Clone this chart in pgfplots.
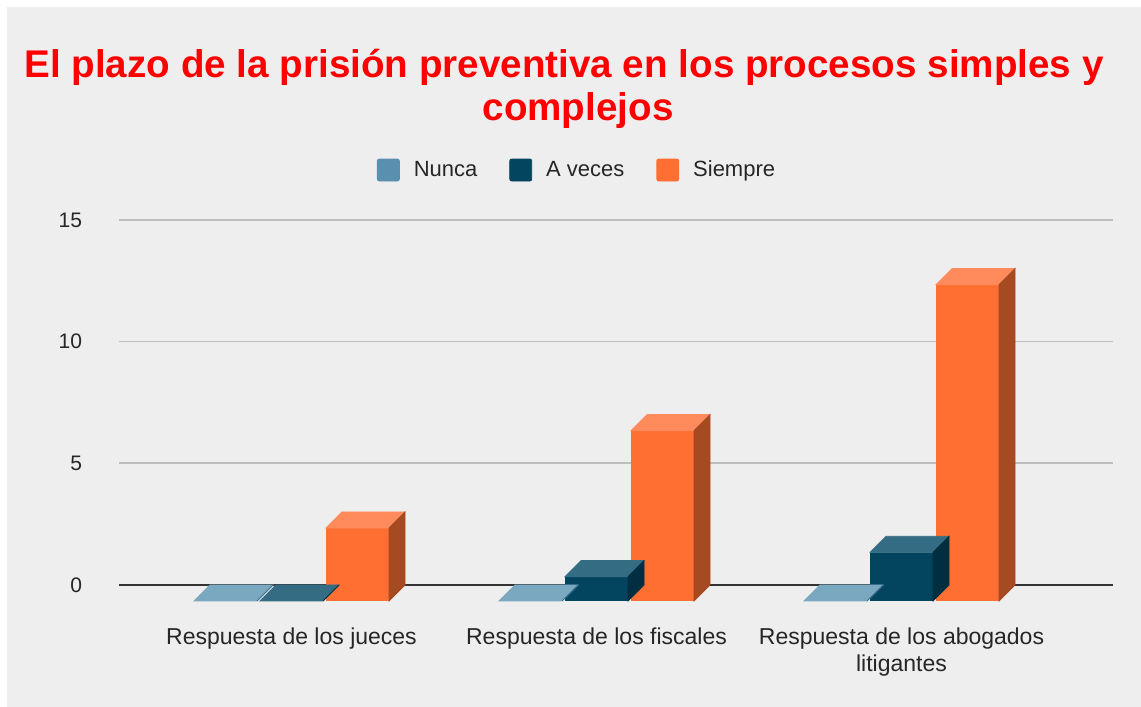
\documentclass[border=0pt]{standalone}
\usepackage{fontspec}
\setmainfont{Liberation Sans}
\usepackage{pgfplots}
\usepackage{pgfplotstable}
\pgfplotsset{compat=1.18}
\pgfdeclareplotmark{nothing}{}
\definecolor{bg}{HTML}{EEEEEE}
\definecolor{nuncaF}{HTML}{5A8FAF}
\definecolor{nuncaT}{HTML}{7AA8C0}
\definecolor{nuncaS}{HTML}{3E6F8A}
\definecolor{avecesF}{HTML}{03455F}
\definecolor{avecesT}{HTML}{346C83}
\definecolor{avecesS}{HTML}{012E40}
\definecolor{siempreF}{HTML}{FF6F31}
\definecolor{siempreT}{HTML}{FF8A5B}
\definecolor{siempreS}{HTML}{A64A21}
\definecolor{gridc}{HTML}{BDBDBD}
\definecolor{zeroc}{HTML}{333333}
\pgfplotstableread{
cat nunca aveces siempre
0 0 0 3
1 0 1 7
2 0 2 13
}\datatable
\begin{document}
\begin{tikzpicture}
\fill[white] (-59.5pt,-48.85pt) rectangle (511pt,304.65pt);
\fill[bg] (-56pt,-48.85pt) rectangle (511pt,301.15pt);
\begin{axis}[
  scale only axis,
  width=497pt, height=194.67pt,
  xmin=-0.5656, xmax=2.6934,
  ymin=-1, ymax=15,
  clip=false,
  axis line style={draw=none},
  major tick length=0pt,
  ytick={5,10,15},
  extra y ticks={0},
  extra y tick style={grid style={color=zeroc, line width=1pt}},
  ymajorgrids,
  grid style={color=gridc, line width=0.8pt},
  xtick={0,1,2},
  xticklabels={Respuesta de los jueces, Respuesta de los fiscales, {Respuesta de los abogados\\litigantes}},
  xticklabel style={font=\fontsize{11.5}{13.5}\selectfont, align=center, anchor=north, yshift=-5.5pt, text=black!85},
  yticklabel style={font=\fontsize{10.5}{12}\selectfont, anchor=east, xshift=-15pt, text=black!85},
  /pgf/number format/assume math mode=true,
  legend columns=3,
  legend style={at={(axis description cs:0.4618,1.1283)}, anchor=center, draw=none, fill=none,
    font=\fontsize{11}{13}\selectfont, text=black!85,
    /tikz/every odd column/.append style={column sep=5pt},
    /tikz/every even column/.append style={column sep=14pt}},
  legend image code/.code={\fill[#1, rounded corners=1pt] (0pt,-5.5pt) rectangle (11pt,5.5pt);},
]
% Nunca
\addplot[ybar, bar width=31.5pt, bar shift=-33pt, draw=none, fill=nuncaF, yshift=-8pt, forget plot]
  table[x=cat,y=nunca]{\datatable};
\addplot[scatter, only marks, mark=nothing, xshift=-33pt, forget plot,
  visualization depends on={\thisrow{nunca}\as\val},
  scatter/@pre marker code/.code={
    \fill[nuncaT] (-15.75pt,-8pt) -- (15.75pt,-8pt) -- (23.75pt,0pt) -- (-7.75pt,0pt) -- cycle;
    \fill[nuncaS] (15.75pt,-8pt) -- (23.75pt,0pt) -- ++(axis direction cs:0,-\val) -- ++(-8pt,-8pt) -- cycle;
  },
  scatter/@post marker code/.code={}]
  table[x=cat,y=nunca]{\datatable};
% A veces
\addplot[ybar, bar width=31.5pt, bar shift=0pt, draw=none, fill=avecesF, yshift=-8pt, forget plot]
  table[x=cat,y=aveces]{\datatable};
\addplot[scatter, only marks, mark=nothing, forget plot,
  visualization depends on={\thisrow{aveces}\as\val},
  scatter/@pre marker code/.code={
    \fill[avecesT] (-15.75pt,-8pt) -- (15.75pt,-8pt) -- (23.75pt,0pt) -- (-7.75pt,0pt) -- cycle;
    \fill[avecesS] (15.75pt,-8pt) -- (23.75pt,0pt) -- ++(axis direction cs:0,-\val) -- ++(-8pt,-8pt) -- cycle;
  },
  scatter/@post marker code/.code={}]
  table[x=cat,y=aveces]{\datatable};
% Siempre
\addplot[ybar, bar width=31.5pt, bar shift=33pt, draw=none, fill=siempreF, yshift=-8pt, forget plot]
  table[x=cat,y=siempre]{\datatable};
\addplot[scatter, only marks, mark=nothing, xshift=33pt, forget plot,
  visualization depends on={\thisrow{siempre}\as\val},
  scatter/@pre marker code/.code={
    \fill[siempreT] (-15.75pt,-8pt) -- (15.75pt,-8pt) -- (23.75pt,0pt) -- (-7.75pt,0pt) -- cycle;
    \fill[siempreS] (15.75pt,-8pt) -- (23.75pt,0pt) -- ++(axis direction cs:0,-\val) -- ++(-8pt,-8pt) -- cycle;
  },
  scatter/@post marker code/.code={}]
  table[x=cat,y=siempre]{\datatable};
\addlegendimage{nuncaF}\addlegendentry{Nunca}
\addlegendimage{avecesF}\addlegendentry{A veces}
\addlegendimage{siempreF}\addlegendentry{Siempre}
\end{axis}
\node[anchor=base, text=red, font=\fontsize{19.3}{22}\selectfont\bfseries] at (222.5pt,265.65pt) {El plazo de la prisión preventiva en los procesos simples y};
\node[anchor=base, text=red, font=\fontsize{19.3}{22}\selectfont\bfseries] at (229.5pt,244.15pt) {complejos};
\end{tikzpicture}
\end{document}
